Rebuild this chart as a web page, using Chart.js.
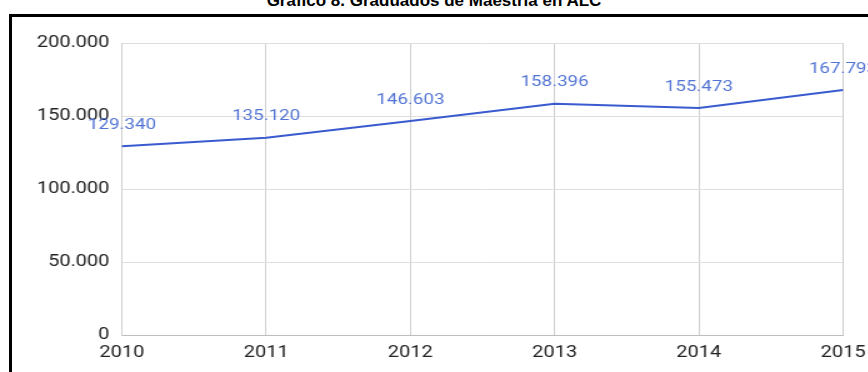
<!DOCTYPE html>
<html>
<head>
<meta charset="utf-8">
<script src="https://cdn.jsdelivr.net/npm/chart.js@4/dist/chart.umd.min.js"></script>
<style>
  body { margin: 0; width: 868px; height: 372px; overflow: hidden; background: #fff; position: relative; }
  #title { position: absolute; left: 0; top: -9px; width: 868px; text-align: center; font: bold 17px "Liberation Sans", Arial, sans-serif; color: #000; white-space: nowrap; }
  #frame { position: absolute; left: 9px; top: 14px; width: 900px; height: 400px; border: 3px solid #000; }
  #wrap { position: absolute; left: 0; top: 0; width: 695px; height: 372px; transform: scaleX(1.25); transform-origin: 0 0; }
</style>
</head>
<body>
<div id="title">Gráfico 8. Graduados de Maestría en ALC</div>
<div id="frame"></div>
<div id="wrap"><canvas id="myChart"></canvas></div>
<script>
const years = ['2010', '2011', '2012', '2013', '2014', '2015']
const graduates = [129340, 135120, 146603, 158396, 155473, 167793]
const yTicks = [0, 50000, 100000, 150000, 200000]

const lineColor = '#3a5bcf'
const labelColor = '#5274d4'

// 129340 -> "129.340"
const fmt = n => String(n).replace(/\B(?=(\d{3})+(?!\d))/g, '.')

// value text above each point
const valueLabels = {
  id: 'valueLabels',
  afterDatasetsDraw (chart) {
    const ctx = chart.ctx
    const meta = chart.getDatasetMeta(0)
    ctx.save()
    ctx.font = '15px Roboto'
    ctx.fillStyle = labelColor
    ctx.textAlign = 'center'
    ctx.textBaseline = 'middle'
    meta.data.forEach((pt, i) => {
      ctx.fillText(fmt(graduates[i]), pt.x, pt.y - 21)
    })
    ctx.restore()
  }
}

var ctx = document.getElementById('myChart').getContext('2d');
var chart = new Chart(ctx, {
  type: 'line',
  data: {
    labels: years,
    datasets: [{
      data: graduates,
      borderColor: lineColor,
      borderWidth: 2,
      pointRadius: 0,
      tension: 0,
      fill: false
    }]
  },
  plugins: [valueLabels],
  options: {
    responsive: true,
    maintainAspectRatio: false,
    animation: false,
    layout: { padding: { top: 43, right: 20.6, bottom: 0, left: 0 } },
    plugins: {
      legend: { display: false },
      tooltip: { enabled: false }
    },
    scales: {
      x: {
        afterFit: scale => {
          scale.height = 37
          // let the last year label hang past the plot edge
          scale.paddingLeft = 0
          scale.paddingRight = 0
        },
        grid: { color: '#cfcfcf', drawTicks: false },
        border: { color: '#bdbdbd' },
        ticks: { color: '#222', font: { family: 'Roboto', size: 16 }, padding: 8, maxRotation: 0 }
      },
      y: {
        min: yTicks[0],
        max: yTicks[yTicks.length - 1],
        afterFit: scale => { scale.width = 97.6 },
        afterBuildTicks: scale => { scale.ticks = yTicks.map(v => ({ value: v })) },
        grid: { color: '#dedede', drawTicks: false },
        border: { color: '#cfcfcf' },
        ticks: { color: '#222', font: { family: 'Roboto', size: 16 }, padding: 10, callback: v => fmt(v) }
      }
    }
  }
});
</script>
</body>
</html>
